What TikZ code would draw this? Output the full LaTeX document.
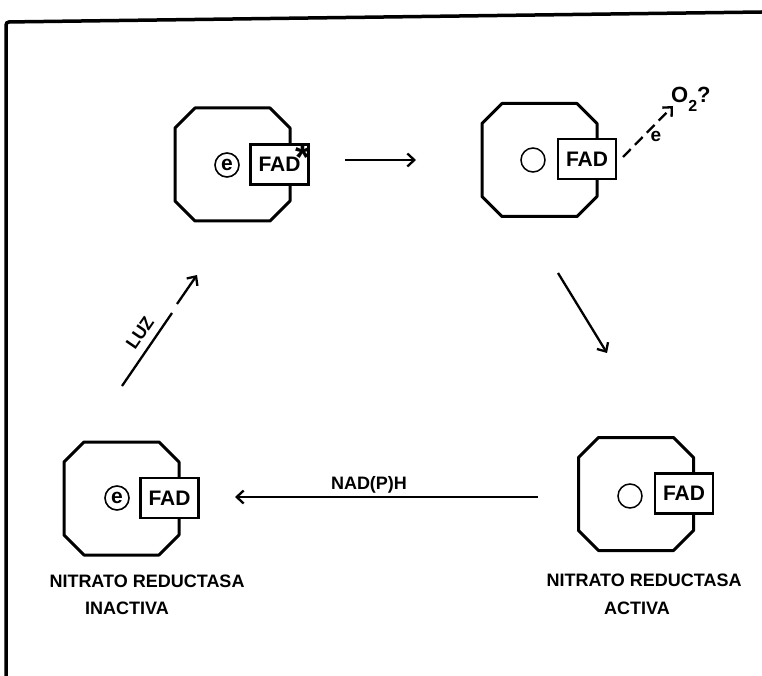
\documentclass[tikz,border=0pt]{standalone}
\usepackage{fontspec}
\setmainfont{Liberation Sans}
\usetikzlibrary{arrows.meta}
\tikzset{
  octa/.style={line width=3pt, line join=round},
  octpic/.pic={\draw[octa] (-57.5,-36.5) -- (-57.5,36.5) -- (-37.5,56.5) -- (37.5,56.5) -- (57.5,36.5) -- (57.5,-36.5) -- (37.5,-56.5) -- (-37.5,-56.5) -- cycle;},
  fadbox/.style={draw, fill=white, line width=2.2pt, minimum width=58pt, minimum height=40pt, inner sep=0pt, font=\fontsize{21}{22}\selectfont\bfseries},
  ecirc/.style={draw, circle, line width=1.6pt, minimum size=24pt, inner sep=0pt, font=\fontsize{21}{22}\selectfont\bfseries},
  ocirc/.style={draw, circle, line width=1.5pt, minimum size=24pt, inner sep=0pt},
  arr/.style={line width=2.3pt, -{Straight Barb[length=7pt,width=13pt,line width=2.3pt]}},
  lbl/.style={font=\fontsize{18}{20}\selectfont\bfseries},
}
\begin{document}
\begin{tikzpicture}[x=1pt,y=-1pt]
\useasboundingbox (0,0) rectangle (762,676);
% frame
\draw[line width=3.5pt, rounded corners=3pt] (762,12) -- (6,22) -- (6,676);

% octagon centres
\coordinate (o1) at (232.5,164.5);
\coordinate (o2) at (539.5,160);
\coordinate (o3) at (121.5,498.5);
\coordinate (o4) at (636,494);
\pic at (o1) {octpic};
\pic at (o2) {octpic};
\pic at (o3) {octpic};
\pic at (o4) {octpic};

% FAD boxes
\node[fadbox] (f1) at (279.5,164.5) {FAD};
\node[fadbox] (f2) at (587,159) {FAD};
\node[fadbox] (f3) at (169.5,498) {FAD};
\node[fadbox] (f4) at (684,493.5) {FAD};

% circles
\node[ecirc] (e1) at (227,165) {e};
\node[ocirc] (c2) at (533,160) {};
\node[ecirc] (e3) at (117,498) {e};
\node[ocirc] (c4) at (630,496) {};

% asterisk
\node[font=\fontsize{38}{38}\selectfont\bfseries, anchor=base, inner sep=0pt] (ast) at (303,171) {*};

% top arrow
\coordinate (t1) at (345,160);
\coordinate (t2) at (416,160);
\draw[arr] (t1) -- (t2);

% dashed arrow to O2
\coordinate (d1) at (623,157);
\coordinate (d2) at (673,106);
\draw[arr, dash pattern=on 11pt off 6pt] (d1) -- (d2);
\node[font=\fontsize{19}{20}\selectfont\bfseries, inner sep=0pt] (el) at (656,136) {e};
\node[font=\fontsize{22}{24}\selectfont\bfseries, anchor=west, inner sep=0pt] (ox) at (671,99) {O\raisebox{-0.4em}{\fontsize{16}{16}\selectfont 2}?};

% diagonal arrow
\coordinate (g1) at (558,273);
\coordinate (g2) at (607,353);
\draw[arr] (g1) -- (g2);

% NAD(P)H arrow
\coordinate (n1) at (538,497);
\coordinate (n2) at (235,497);
\draw[arr] (n1) -- (n2);
\node[lbl] (nad) at (369,485) {NAD(P)H};

% LUZ arrow
\coordinate (l1) at (122,386);
\coordinate (l2) at (172,313);
\coordinate (l3) at (177,304);
\coordinate (l4) at (197,275);
\draw[line width=2.3pt] (l1) -- (l2);
\draw[arr] (l3) -- (l4);
\node[lbl, rotate=55.6, inner sep=0pt] (luz) at (140,333) {LUZ};

% captions
\node[lbl] (cap1) at (147,581) {NITRATO REDUCTASA};
\node[lbl] (cap1b) at (127,608) {INACTIVA};
\node[lbl] (cap2) at (644,580) {NITRATO REDUCTASA};
\node[lbl] (cap2b) at (637,608) {ACTIVA};
\end{tikzpicture}
\end{document}
